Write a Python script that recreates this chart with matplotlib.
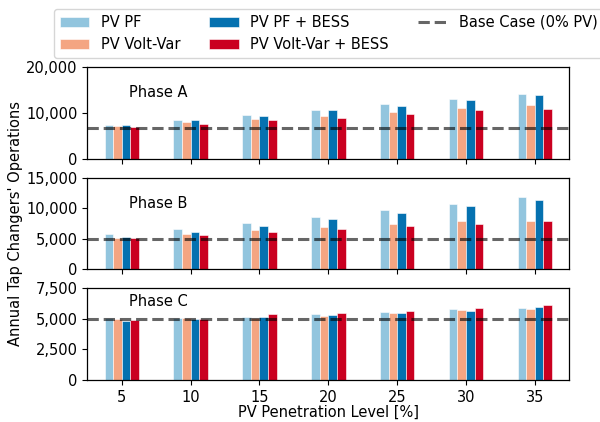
import matplotlib
matplotlib.use("Agg")
import matplotlib.pyplot as plt
import numpy as np
from matplotlib.ticker import FuncFormatter

plt.rcParams['font.family'] = ['DejaVu Sans']
plt.rcParams['font.size'] = 10

penetration = [5, 10, 15, 20, 25, 30, 35]
series_names = ["PV PF", "PV Volt-Var", "PV PF + BESS", "PV Volt-Var + BESS"]
series_colors = ["#92c5de", "#f4a582", "#0571b0", "#ca0020"]

phase_a = {
    "PV PF":              [7320, 8400, 9490, 10720, 11950, 12970, 14130],
    "PV Volt-Var":        [7100, 7900, 8620, 9350, 10220, 11010, 11810],
    "PV PF + BESS":       [7320, 8400, 9350, 10510, 11590, 12750, 13910],
    "PV Volt-Var + BESS": [6880, 7610, 8330, 8910, 9710, 10510, 10870],
}
phase_b = {
    "PV PF":              [5730, 6610, 7530, 8630, 9660, 10700, 11740],
    "PV Volt-Var":        [5190, 5840, 6440, 6930, 7430, 7920, 7920],
    "PV PF + BESS":       [5240, 6110, 7100, 8250, 9280, 10370, 11360],
    "PV Volt-Var + BESS": [5080, 5620, 6110, 6550, 7100, 7480, 7920],
}
phase_c = {
    "PV PF":              [5070, 5045, 5150, 5400, 5590, 5780, 5860],
    "PV Volt-Var":        [4960, 5045, 5070, 5240, 5450, 5700, 5840],
    "PV PF + BESS":       [4850, 4990, 5150, 5290, 5510, 5670, 5970],
    "PV Volt-Var + BESS": [4910, 5020, 5400, 5480, 5670, 5860, 6110],
}
base_case = [6650, 5000, 5000]
phase_labels = ["Phase A", "Phase B", "Phase C"]
y_limits = [20000, 15000, 7500]
y_ticks = [[0, 10000, 20000], [0, 5000, 10000, 15000], [0, 2500, 5000, 7500]]
label_y = [0.72, 0.72, 0.85]

fig = plt.figure(figsize=(6.0, 4.22), dpi=100)
left, width = 0.1455, 0.8033
bottoms = [0.6239, 0.3618, 0.0995]
height = 0.2175

x = np.arange(len(penetration))
bar_w = 0.125
offsets = [-1.5, -0.5, 0.5, 1.5]
fmt = FuncFormatter(lambda v, p: f"{int(v):,}")

for i, data in enumerate([phase_a, phase_b, phase_c]):
    ax = fig.add_axes([left, bottoms[i], width, height])
    handles = []
    for name, color, off in zip(series_names, series_colors, offsets):
        h = ax.bar(x + off * bar_w, data[name], width=bar_w, color=color,
                   edgecolor="white", linewidth=0.4, label=name, zorder=2)
        handles.append(h)
    base = ax.axhline(base_case[i], color="black", alpha=0.6, lw=2.2,
                      ls="--", zorder=3, label="Base Case (0% PV)")
    ax.set_xlim(-0.5, len(penetration) - 0.5)
    ax.set_ylim(0, y_limits[i])
    ax.set_yticks(y_ticks[i])
    ax.yaxis.set_major_formatter(fmt)
    ax.tick_params(labelsize=10.5)
    ax.set_xticks(x)
    if i < 2:
        ax.set_xticklabels([])
    else:
        ax.set_xticklabels([str(p) for p in penetration])
    ax.text(0.087, label_y[i], phase_labels[i], transform=ax.transAxes,
            va="center", ha="left", fontsize=10.5)
    for s in ax.spines.values():
        s.set_color("black")
        s.set_linewidth(0.9)

fig.text(left + width / 2, 1 - 412 / 422, "PV Penetration Level [%]",
         va="center", ha="center", fontsize=10.5)
fig.text(16 / 600, 0.47, "Annual Tap Changers' Operations", rotation=90,
         va="center", ha="center", fontsize=10.5)

fig.legend(handles=handles + [base], ncol=3, loc="upper left",
           bbox_to_anchor=(54 / 600, 1 - 9 / 422), borderaxespad=0,
           fontsize=10.5)

fig.savefig("out.png", dpi=100)
